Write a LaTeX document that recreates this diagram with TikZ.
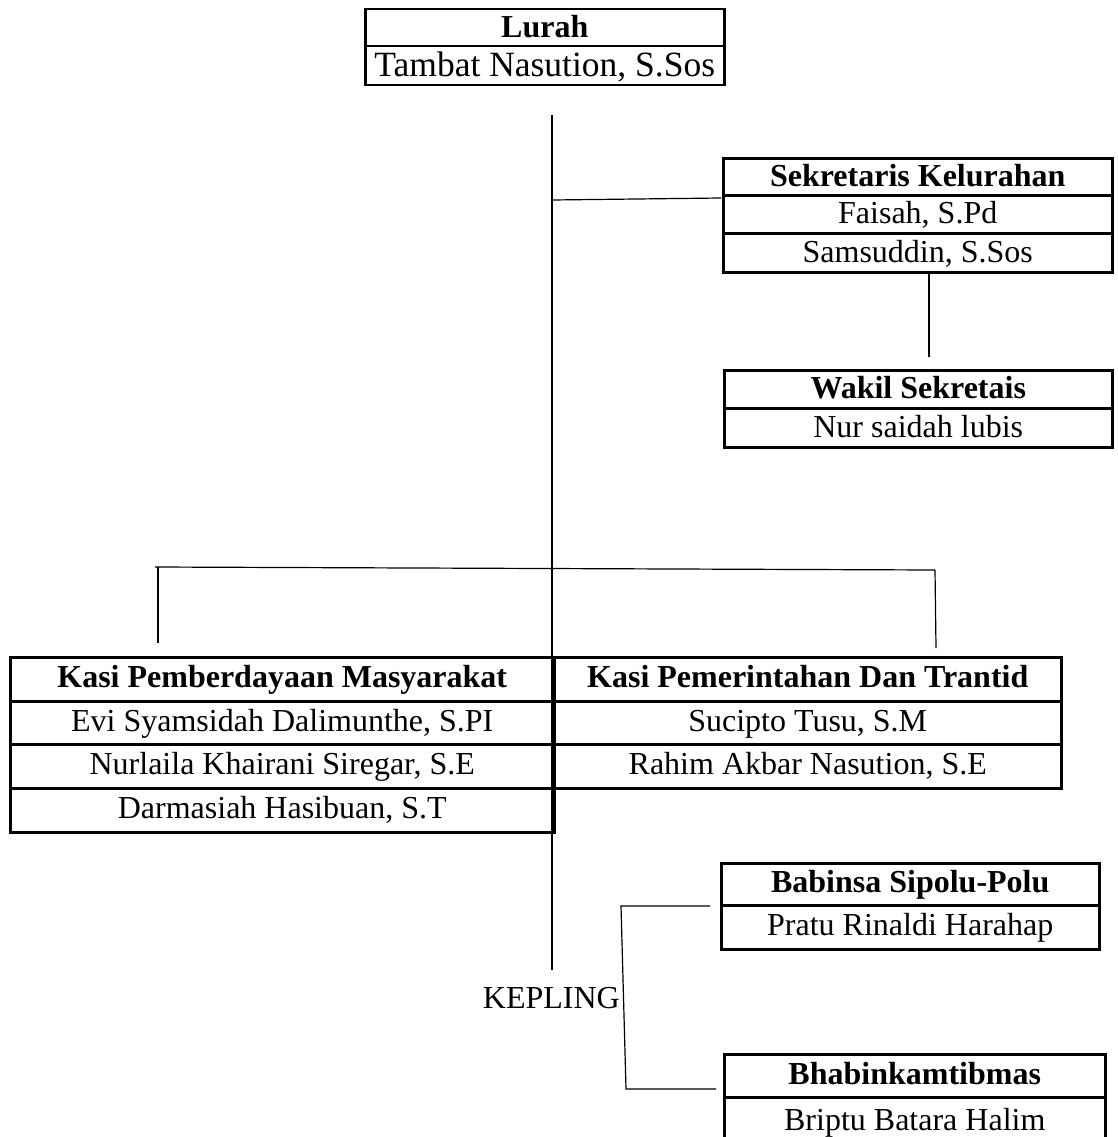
\documentclass[tikz,border=0pt]{standalone}
\usepackage{fontspec}
\setmainfont{Liberation Serif}
\tikzset{
  cell/.style={draw, line width=2.5pt, anchor=north west, inner sep=0pt, align=center,
    text height=23pt, text depth=6pt, font=\fontsize{32}{38}\selectfont},
  head/.style={cell, font=\bfseries\fontsize{32}{38}\selectfont},
  link/.style={line width=1.2pt}
}
\begin{document}
\begin{tikzpicture}[x=1pt,y=-1pt]
\useasboundingbox (0,0) rectangle (1117,1137);
% Lurah
\node[head, minimum width=359pt, minimum height=37pt, text height=24pt, text depth=5pt] (lurahH) at (364,8) {Lurah};
\node[cell, minimum width=359pt, minimum height=39pt, text height=25pt, text depth=4pt, font=\fontsize{35.5}{40}\selectfont] (lurahA) at (364,45) {Tambat Nasution, S.Sos};
% Sekretaris
\node[head, minimum width=389pt, minimum height=37pt, text height=24pt, text depth=5pt] (sekH) at (722,157) {Sekretaris Kelurahan};
\node[cell, minimum width=389pt, minimum height=38pt, text height=24pt, text depth=5pt] (sekA) at (722,194) {Faisah, S.Pd};
\node[cell, minimum width=389pt, minimum height=39pt, text height=24pt, text depth=5pt] (sekB) at (722,232) {Samsuddin, S.Sos};
% Wakil
\node[head, minimum width=388pt, minimum height=38pt, text height=24pt, text depth=5pt] (wakH) at (723,369) {Wakil Sekretais};
\node[cell, minimum width=388pt, minimum height=39pt, text height=24pt, text depth=5pt] (wakA) at (723,407) {Nur saidah lubis};
% Kasi Pemberdayaan
\node[head, minimum width=544pt, minimum height=44pt] (kpH) at (9,656) {Kasi Pemberdayaan Masyarakat};
\node[cell, minimum width=544pt, minimum height=43pt] (kpA) at (9,700) {Evi Syamsidah Dalimunthe, S.PI};
\node[cell, minimum width=544pt, minimum height=44pt] (kpB) at (9,743) {Nurlaila Khairani Siregar, S.E};
\node[cell, minimum width=544pt, minimum height=44pt] (kpC) at (9,787) {Darmasiah Hasibuan, S.T};
% Kasi Pemerintahan
\node[head, minimum width=507pt, minimum height=44pt] (ktH) at (553,656) {Kasi Pemerintahan Dan Trantid};
\node[cell, minimum width=507pt, minimum height=43pt] (ktA) at (553,700) {Sucipto Tusu, S.M};
\node[cell, minimum width=507pt, minimum height=44pt] (ktB) at (553,743) {Rahim Akbar Nasution, S.E};
% Babinsa
\node[head, minimum width=378pt, minimum height=42pt] (babH) at (720,862) {Babinsa Sipolu-Polu};
\node[cell, minimum width=378pt, minimum height=44pt] (babA) at (720,904) {Pratu Rinaldi Harahap};
% Bhabinkamtibmas
\node[head, minimum width=381pt, minimum height=43pt] (bhaH) at (723,1053) {Bhabinkamtibmas};
\node[cell, minimum width=381pt, minimum height=50pt] (bhaA) at (723,1096) {Briptu Batara Halim};
% KEPLING
\node[anchor=base east, inner sep=0pt, font=\fontsize{32}{38}\selectfont] (kep) at (620,1008) {KEPLING};
% connectors
\coordinate (mTop) at (552,115);
\coordinate (mBot) at (552,970);
\draw[link] (mTop) -- (mBot);
\coordinate (jSek) at (552,200);
\coordinate (sekIn) at (721,198);
\draw[link] (jSek) -- (sekIn);
\coordinate (sdEnd) at (929,357);
\draw[link] (sekB.south -| sdEnd) -- (sdEnd);
\coordinate (barL) at (155,567);
\coordinate (barR) at (935,570);
\draw[link] (barL) -- (barR);
\coordinate (dropL) at (158,643);
\coordinate (dropR) at (936,648);
\draw[link] (158,567) -- (dropL);
\draw[link] (barR) -- (dropR);
\coordinate (bTop) at (710,906);
\coordinate (bTL) at (621,906);
\coordinate (bBL) at (626,1089);
\coordinate (bBot) at (716,1089);
\draw[link] (bTop) -- (bTL) -- (bBL) -- (bBot);
\end{tikzpicture}
\end{document}
